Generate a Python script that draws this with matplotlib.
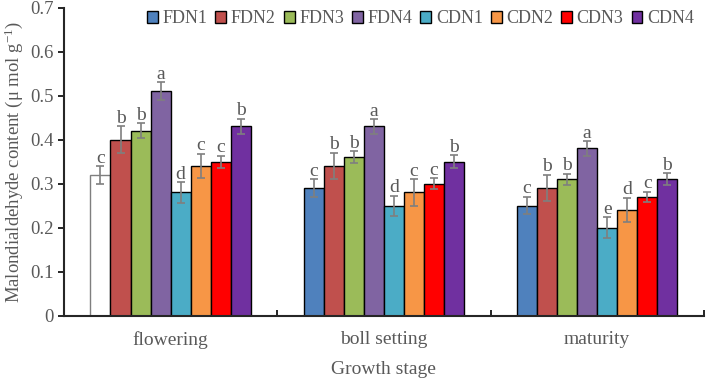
import numpy as np
import matplotlib
matplotlib.use("Agg")
import matplotlib.pyplot as plt

stages = ["flowering", "boll setting", "maturity"]
treatments = ["FDN1", "FDN2", "FDN3", "FDN4", "CDN1", "CDN2", "CDN3", "CDN4"]
colors = ["#4F81BD", "#C0504D", "#9BBB59", "#8064A2", "#4BACC6", "#F79646", "#FF0000", "#7030A0"]

# values per treatment: [flowering, boll setting, maturity]
mda = {
    "FDN1": [0.32, 0.29, 0.25],
    "FDN2": [0.40, 0.34, 0.29],
    "FDN3": [0.42, 0.36, 0.31],
    "FDN4": [0.51, 0.43, 0.38],
    "CDN1": [0.28, 0.25, 0.20],
    "CDN2": [0.34, 0.28, 0.24],
    "CDN3": [0.35, 0.30, 0.27],
    "CDN4": [0.43, 0.35, 0.31],
}
err = {
    "FDN1": [0.020, 0.020, 0.020],
    "FDN2": [0.030, 0.030, 0.030],
    "FDN3": [0.017, 0.014, 0.013],
    "FDN4": [0.020, 0.016, 0.016],
    "CDN1": [0.023, 0.023, 0.024],
    "CDN2": [0.028, 0.030, 0.028],
    "CDN3": [0.014, 0.012, 0.012],
    "CDN4": [0.018, 0.015, 0.014],
}
letters = {
    "FDN1": ["c", "c", "c"],
    "FDN2": ["b", "b", "b"],
    "FDN3": ["b", "b", "b"],
    "FDN4": ["a", "a", "a"],
    "CDN1": ["d", "d", "e"],
    "CDN2": ["c", "c", "d"],
    "CDN3": ["c", "c", "c"],
    "CDN4": ["b", "b", "b"],
}

plt.rcParams["font.family"] = ["Liberation Serif", "DejaVu Serif"]
plt.rcParams["mathtext.fontset"] = "custom"
plt.rcParams["mathtext.rm"] = "Liberation Serif"
plt.rcParams["mathtext.it"] = "Liberation Serif"
txt = "#595959"

fig = plt.figure(figsize=(7.08, 3.84), dpi=100)
ax = fig.add_axes([0.0904, 0.178, 0.9036, 0.802])

x = np.arange(len(stages))
w = 0.094
for i, t in enumerate(treatments):
    pos = x + (i - 3.5) * w
    fc = [colors[i]] * 3
    ec = ["black"] * 3
    if t == "FDN1":
        fc[0] = "white"
        ec[0] = "#7f7f7f"
    ax.bar(pos, mda[t], w, color=fc, edgecolor=ec, linewidth=1.0, label=t, zorder=2)
    ax.errorbar(pos, mda[t], yerr=err[t], fmt="none", ecolor="#7f7f7f",
                elinewidth=1.2, capsize=3, capthick=1.2, zorder=3)
    for p, v, e, l in zip(pos, mda[t], err[t], letters[t]):
        ax.text(p, v + e - 0.001, l, ha="center", va="bottom", fontsize=14, color=txt)

ax.set_xlim(-0.5, 2.5)
ax.set_ylim(0, 0.7)
ax.set_yticks(np.arange(0, 0.71, 0.1))
ax.set_yticklabels(["0"] + ["%.1f" % v for v in np.arange(0.1, 0.71, 0.1)])
ax.set_xticks(x)
ax.set_xticklabels(stages)
ax.set_xticks([0.5, 1.5, 2.5], minor=True)
ax.tick_params(axis="x", which="major", length=0, labelsize=14, labelcolor=txt, pad=11)
ax.tick_params(axis="x", which="minor", direction="in", length=4, width=1.2)
ax.tick_params(axis="y", direction="out", length=4, width=1.2, labelsize=13.5, labelcolor=txt)
for s in ["top", "right"]:
    ax.spines[s].set_visible(False)
for s in ["left", "bottom"]:
    ax.spines[s].set_linewidth(1.5)
    ax.spines[s].set_color("#262626")

ax.set_xlabel("Growth stage", fontsize=14, color=txt, labelpad=9)
ax.set_ylabel(r"Malondialdehyde content (μ mol g$^{-1}$)", fontsize=13.5, color=txt, labelpad=4)

handles, labels = ax.get_legend_handles_labels()
leg = fig.legend(handles, labels, ncol=8, loc="upper right", bbox_to_anchor=(1.003, 1.015),
                 frameon=False, fontsize=13, handlelength=0.6, handleheight=0.6,
                 handletextpad=0.25, columnspacing=0.45, labelcolor=txt)
leg.legend_handles[0].set_facecolor(colors[0])
leg.legend_handles[0].set_edgecolor("black")

fig.savefig("out.png", dpi=100)
